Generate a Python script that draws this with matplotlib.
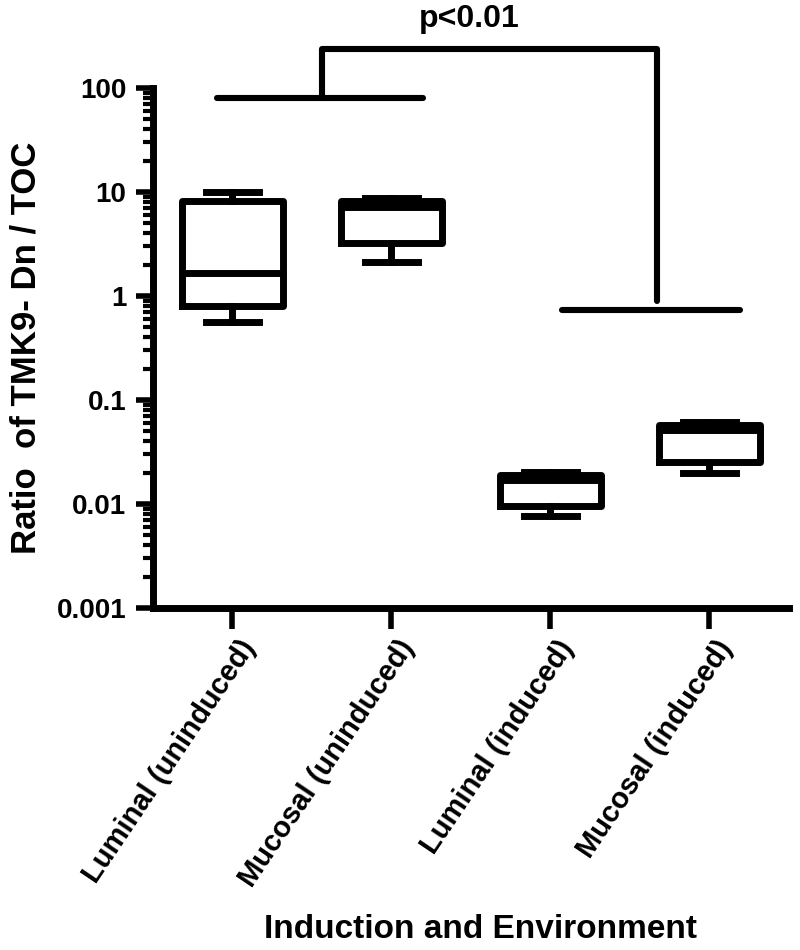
import numpy as np
import matplotlib
matplotlib.use("Agg")
import matplotlib.pyplot as plt
from matplotlib.ticker import LogLocator, NullFormatter
import matplotlib.transforms as mtransforms

plt.rcParams['font.family'] = ['Liberation Sans', 'DejaVu Sans']
plt.rcParams['font.weight'] = 'bold'

# Box summary values (log scale)
groups = ["Luminal (uninduced)", "Mucosal (uninduced)", "Luminal (induced)", "Mucosal (induced)"]
whisker_low = [0.56, 2.1, 0.0077, 0.020]
q1 = [0.80, 3.2, 0.0096, 0.0255]
medians = [1.67, 7.2, 0.0171, 0.052]
q3 = [8.1, 8.1, 0.0191, 0.058]
whisker_high = [10.1, 8.7, 0.0205, 0.062]

# Significance bracket
sig_text = "p<0.01"
left_bar_y = 80
top_bar_y = 237
right_bar_y = 0.73
right_drop_y = 0.90
text_y = 330

fig = plt.figure(figsize=(8, 9.5), dpi=100)
ax = fig.add_axes([0.191, 0.36, 0.795, 0.5474])

stats = []
for i, name in enumerate(groups):
    stats.append({
        "label": name,
        "whislo": whisker_low[i], "q1": q1[i], "med": medians[i],
        "q3": q3[i], "whishi": whisker_high[i], "fliers": [],
    })

positions = np.arange(1, len(groups) + 1)
lw = 5
ax.bxp(stats, positions=positions, widths=0.635, showfliers=False,
       boxprops=dict(color='black', linewidth=lw),
       medianprops=dict(color='black', linewidth=lw),
       whiskerprops=dict(color='black', linewidth=lw),
       capprops=dict(color='black', linewidth=lw),
       capwidths=0.33)

ax.set_yscale('log')
ax.set_ylim(0.001, 100)
ax.set_xlim(0.5, 4.5)

# significance lines
slw = 4.4
kw = dict(color='black', linewidth=slw, solid_capstyle='round', clip_on=False)
ax.plot([0.906, 2.20], [left_bar_y, left_bar_y], **kw)
ax.plot([1.566, 1.566, 3.673, 3.673], [left_bar_y, top_bar_y, top_bar_y, right_drop_y], **kw)
ax.plot([3.075, 4.19], [right_bar_y, right_bar_y], **kw)
ax.text(2.49, text_y, sig_text, ha='center', va='bottom', fontsize=23, fontweight='bold')

# spines
for s in ['top', 'right']:
    ax.spines[s].set_visible(False)
for s in ['left', 'bottom']:
    ax.spines[s].set_linewidth(5)

ax.yaxis.set_minor_locator(LogLocator(base=10, subs=np.arange(2, 10), numticks=20))
ax.yaxis.set_minor_formatter(NullFormatter())
ax.set_yticks([0.001, 0.01, 0.1, 1, 10, 100])
ax.set_yticklabels(["0.001", "0.01", "0.1", "1", "10", "100"])
ax.tick_params(axis='y', which='major', length=12, width=4, labelsize=20, pad=7)
ax.tick_params(axis='y', which='minor', length=7, width=3)

ax.set_xticks(positions)
ax.set_xticklabels(groups, rotation=56, ha='right', va='center',
                   rotation_mode='anchor', fontsize=21, fontweight='bold')
ax.tick_params(axis='x', which='major', length=15, width=4, pad=10)
ax.tick_params(axis='x', which='minor', length=0)
offset = mtransforms.ScaledTranslation(17 / 100, 0, fig.dpi_scale_trans)
for lab in ax.get_xticklabels():
    lab.set_transform(lab.get_transform() + offset)

ax.set_ylabel("Ratio  of TMK9- Dn / TOC", fontsize=25, fontweight='bold', labelpad=10)
fig.text(0.6, 1 - 930 / 950, "Induction and Environment", ha='center', va='center',
         fontsize=24, fontweight='bold')

fig.savefig("out.png", dpi=100)
